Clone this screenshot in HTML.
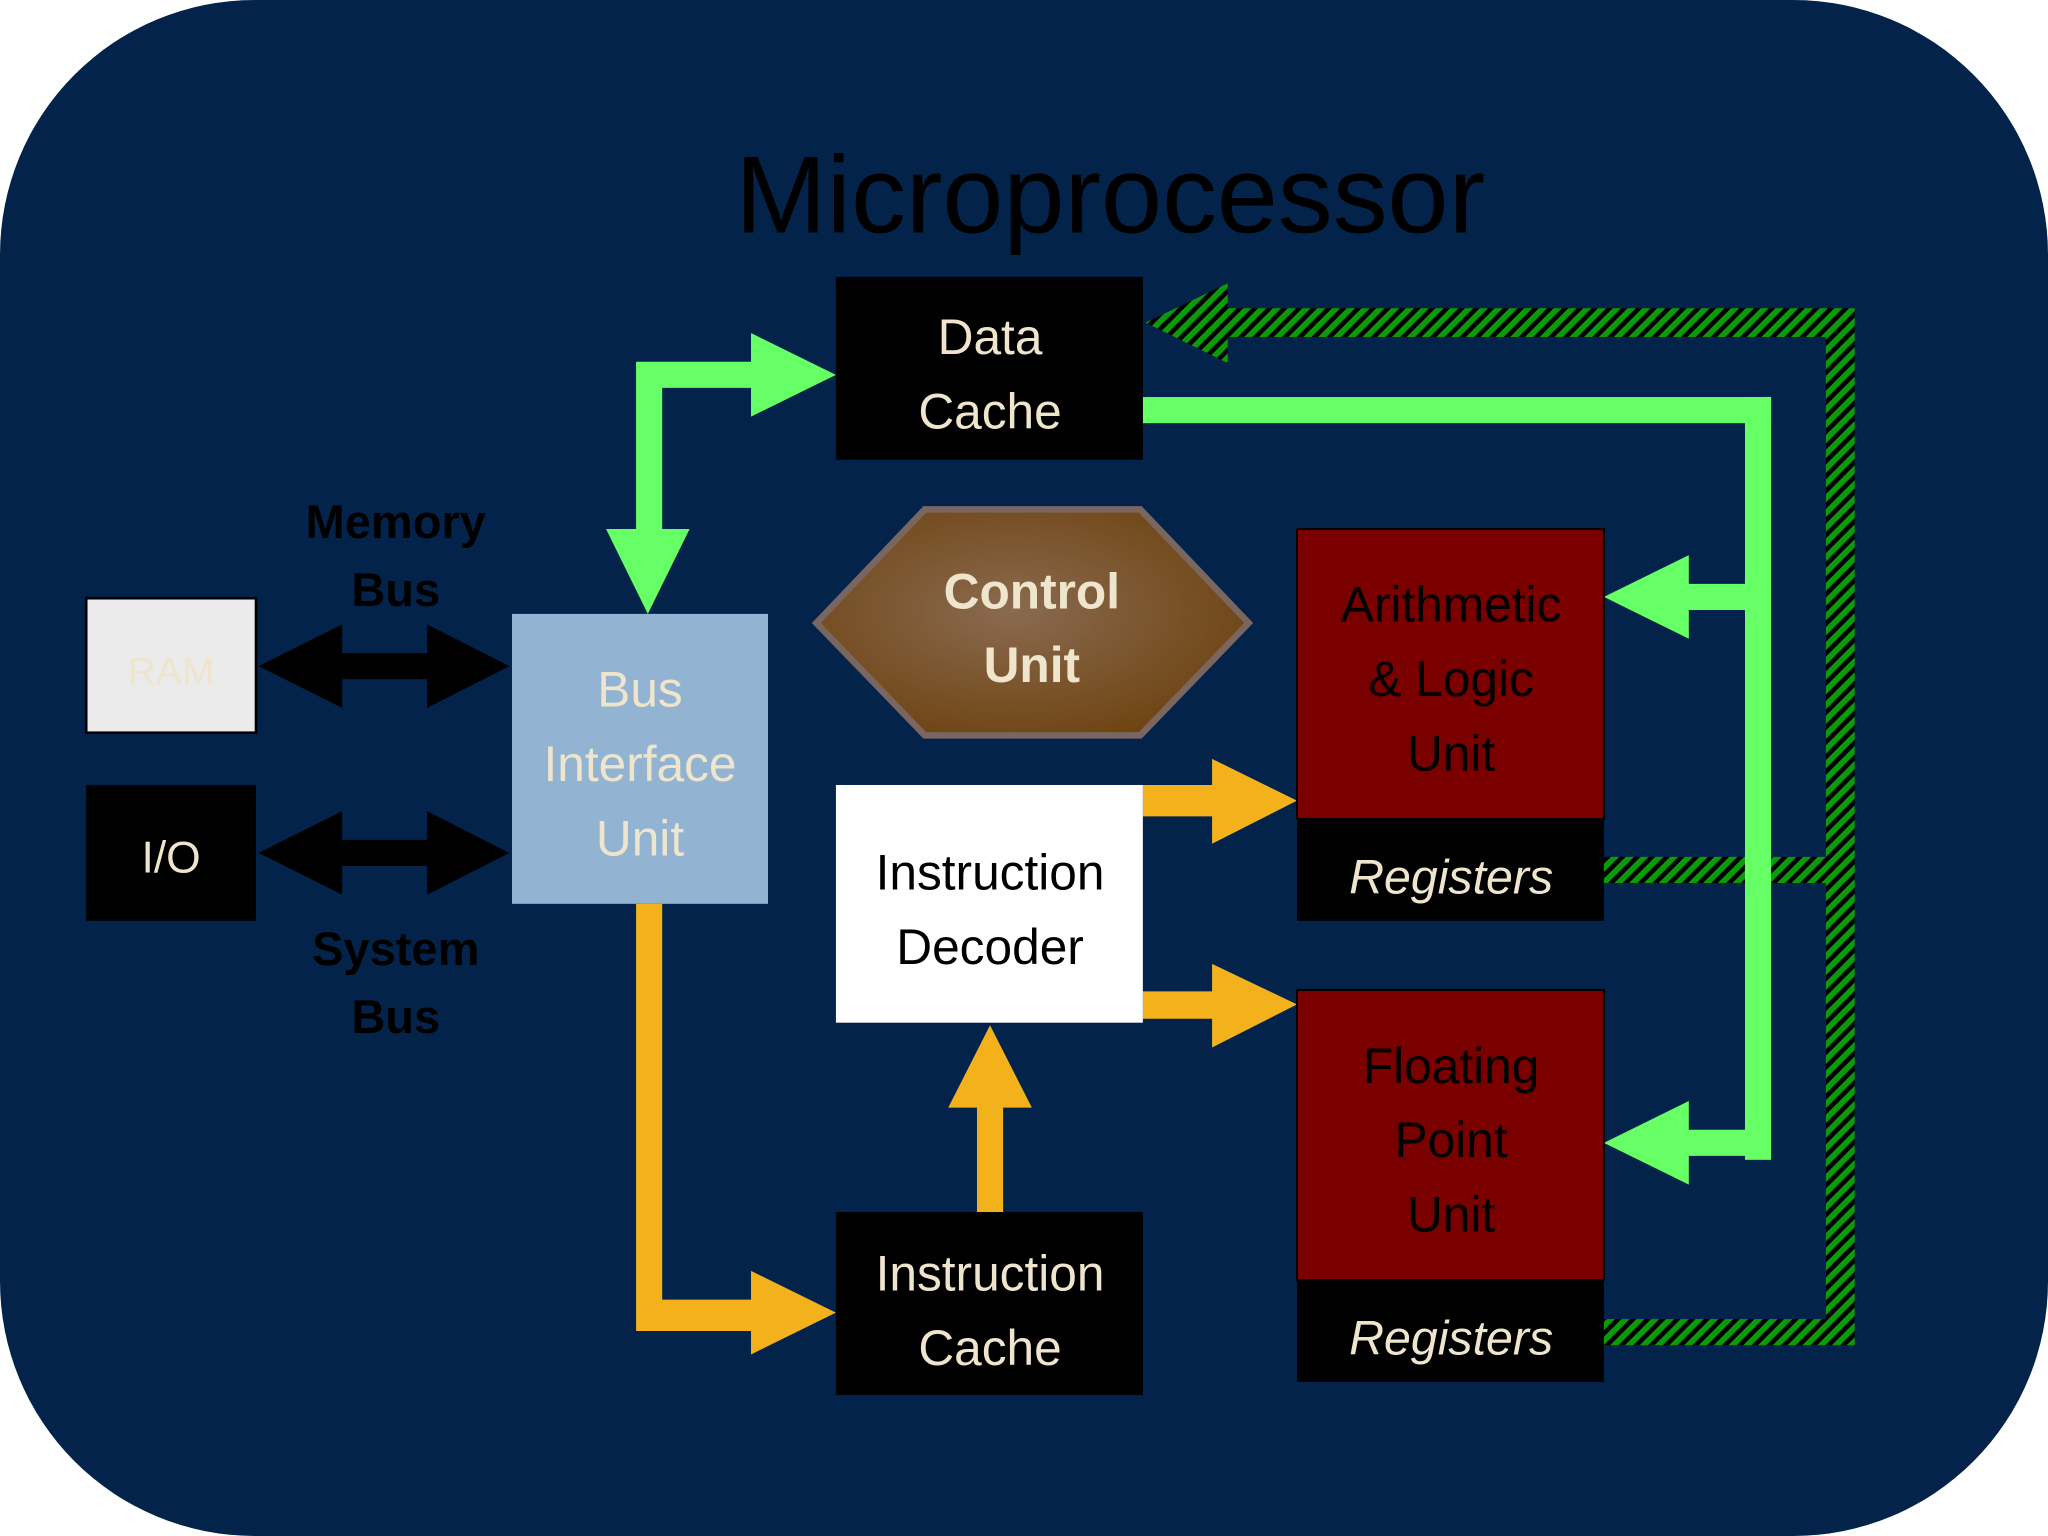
<!DOCTYPE html>
<html><head><meta charset="utf-8"><style>
html,body{margin:0;padding:0;background:#fff}
svg{display:block}
text{font-family:"Liberation Sans",sans-serif}
</style></head><body>
<svg width="2048" height="1536" viewBox="0 0 1568 1176" xmlns="http://www.w3.org/2000/svg">
<defs>
<pattern id="h" width="8" height="8" patternUnits="userSpaceOnUse" patternTransform="rotate(45)">
<rect width="8" height="8" fill="#000"/><rect width="4.5" height="8" fill="#0a9a0a"/>
</pattern>
<radialGradient id="cu" cx="0.45" cy="0.45" r="0.6">
<stop offset="0" stop-color="#8a6a50"/><stop offset="1" stop-color="#6e4412"/>
</radialGradient>
</defs>
<rect x="0" y="0" width="1568" height="1176" rx="195" ry="195" fill="#03234a"/>
<text x="850" y="178" font-size="84" text-anchor="middle" fill="#000">Microprocessor</text>

<!-- hatched path -->
<polygon fill="url(#h)" points="877,247 940,217 940,236 1420,236 1420,1030 1228,1030 1228,1010 1398,1010 1398,676 1228,676 1228,656 1398,656 1398,258 940,258 940,278"/>

<!-- green -->
<g fill="#66ff66">
<polygon points="640,287 575,255 575,277 487,277 487,405 464,405 496,470 528,405 507,405 507,297 575,297 575,319"/>
<rect x="875" y="304" width="481" height="20"/>
<rect x="1336" y="304" width="20" height="584"/>
<polygon points="1228,457 1293,425 1293,447 1340,447 1340,467 1293,467 1293,489"/>
<polygon points="1228,875 1293,843 1293,865 1340,865 1340,885 1293,885 1293,907"/>
</g>

<!-- orange -->
<g fill="#f3b21c">
<polygon points="487,692 507,692 507,995 575,995 575,973 640,1005 575,1037 575,1019 487,1019"/>
<polygon points="875,601 928,601 928,581 993,613 928,646 928,625 875,625"/>
<polygon points="875,759 928,759 928,738 993,769 928,802 928,780 875,780"/>
<polygon points="748,928 748,848 726,848 758,785 790,848 768,848 768,928"/>
</g>

<!-- black double arrows -->
<g fill="#000">
<polygon points="198,510 262,478 262,500 327,500 327,478 390,510 327,542 327,520 262,520 262,542"/>
<polygon points="198,653 262,621 262,643 327,643 327,621 390,653 327,685 327,663 262,663 262,685"/>
</g>

<!-- boxes -->
<rect x="640" y="212" width="235" height="140" fill="#000"/>
<text x="758" y="271" font-size="38" text-anchor="middle" fill="#efe4cc">Data</text>
<text x="758" y="328" font-size="38" text-anchor="middle" fill="#efe4cc">Cache</text>

<polygon points="625,477 708,390 873,390 956,477 873,563 708,563" fill="url(#cu)" stroke="#7a6660" stroke-width="5"/>
<text x="790" y="466" font-size="38" font-weight="bold" text-anchor="middle" fill="#efe4cc">Control</text>
<text x="790" y="522" font-size="38" font-weight="bold" text-anchor="middle" fill="#efe4cc">Unit</text>

<rect x="993" y="405" width="235" height="222" fill="#7a0000" stroke="#000" stroke-width="1.5"/>
<text x="1111" y="476" font-size="38" text-anchor="middle" fill="#000">Arithmetic</text>
<text x="1111" y="533" font-size="38" text-anchor="middle" fill="#000">&amp; Logic</text>
<text x="1111" y="590" font-size="38" text-anchor="middle" fill="#000">Unit</text>
<rect x="993" y="627" width="235" height="78" fill="#000"/>
<text x="1111" y="684" font-size="37" font-style="italic" text-anchor="middle" fill="#efe4cc">Registers</text>

<rect x="993" y="758" width="235" height="222" fill="#7a0000" stroke="#000" stroke-width="1.5"/>
<text x="1111" y="829" font-size="38" text-anchor="middle" fill="#000">Floating</text>
<text x="1111" y="886" font-size="38" text-anchor="middle" fill="#000">Point</text>
<text x="1111" y="943" font-size="38" text-anchor="middle" fill="#000">Unit</text>
<rect x="993" y="980" width="235" height="78" fill="#000"/>
<text x="1111" y="1037" font-size="37" font-style="italic" text-anchor="middle" fill="#efe4cc">Registers</text>

<rect x="640" y="601" width="235" height="182" fill="#fff"/>
<text x="758" y="681" font-size="38" text-anchor="middle" fill="#000">Instruction</text>
<text x="758" y="738" font-size="38" text-anchor="middle" fill="#000">Decoder</text>

<rect x="640" y="928" width="235" height="140" fill="#000"/>
<text x="758" y="988" font-size="38" text-anchor="middle" fill="#efe4cc">Instruction</text>
<text x="758" y="1045" font-size="38" text-anchor="middle" fill="#efe4cc">Cache</text>

<rect x="392" y="470" width="196" height="222" fill="#92b4d2"/>
<text x="490" y="541" font-size="38" text-anchor="middle" fill="#efe4cc">Bus</text>
<text x="490" y="598" font-size="38" text-anchor="middle" fill="#efe4cc">Interface</text>
<text x="490" y="655" font-size="38" text-anchor="middle" fill="#efe4cc">Unit</text>

<rect x="66" y="458" width="130" height="103" fill="#ebebeb" stroke="#000" stroke-width="2"/>
<text x="131" y="524" font-size="30" text-anchor="middle" fill="#efe4cc">RAM</text>
<rect x="66" y="601" width="130" height="104" fill="#000"/>
<text x="131" y="668" font-size="34" text-anchor="middle" fill="#efe4cc">I/O</text>

<g font-size="36" font-weight="bold" text-anchor="middle" fill="#000">
<text x="303" y="412">Memory</text>
<text x="303" y="464">Bus</text>
<text x="303" y="739">System</text>
<text x="303" y="791">Bus</text>
</g>
</svg>
</body></html>
